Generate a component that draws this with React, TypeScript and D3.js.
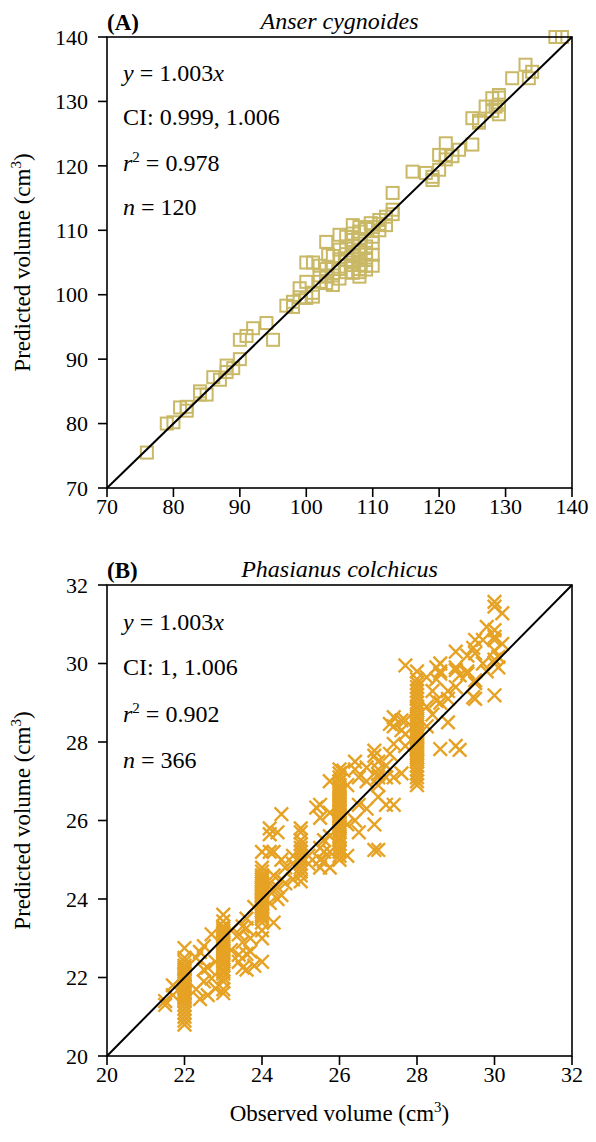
import React from "react";
import * as d3 from "d3";

// Panel A: Anser cygnoides, [observed, predicted]
const gooseData: [number, number][] = [
  [76, 75.5], [79, 80], [80, 80.2], [81, 82.5], [82, 82], [82, 82.6], [84, 85], [84, 84.5],
  [85, 84.5], [86, 87.2], [87, 86.8], [88, 89], [88, 88], [89, 88.6], [90, 90], [90, 93],
  [91, 93.6], [92, 94.8], [94, 95.6], [95, 93], [97, 98.3], [98, 98.9], [98, 98.1], [99, 101],
  [99, 99.6], [100, 102], [100, 99.5], [101, 100.3], [100, 105], [101, 105], [101, 99.7],
  [102, 103], [102, 102], [103, 102.8], [103, 101.8], [103, 108.2], [103.3, 106.2], [104, 101.5],
  [104, 104], [104, 106], [105, 109.3], [105, 107], [105, 104], [105, 105.5], [106, 105.4],
  [106, 107.5], [106, 103.5], [106.7, 104.6], [107, 110.8], [107, 108.5], [107, 103.4], [107, 106],
  [107, 105], [107, 109.5], [108, 110.5], [108, 107], [108, 106.2], [108, 104], [108, 105.5],
  [108, 108.5], [108, 103.5], [108, 109.8], [109, 103.9], [109, 105.4], [109, 107.5], [109, 106.5],
  [109, 110.2], [109.7, 111.1], [110, 106.2], [110, 108], [110, 109], [111, 111.6], [111, 110],
  [112, 112.1], [112, 110.8], [113, 115.8], [113, 113.2], [113, 112.5], [102, 104.5], [103, 104],
  [104, 103], [105, 102.5], [106, 109], [107, 107.5], [108, 106.8], [108, 102.8], [109, 104.5],
  [110, 104.5], [110, 110.5], [111, 111], [106, 106.3],
  [116, 119.1], [118, 118.9], [119, 117.8], [119, 118.3], [120, 119.4], [120, 121.7], [121, 121.7],
  [121, 123.5], [121, 121], [122, 121.5], [123, 122.5], [125, 123.3], [125, 127.4], [126, 126.7],
  [126, 127], [127, 129.2], [128, 130.5], [128, 128.5], [128.5, 129.2], [129, 128], [129, 130.6],
  [129, 129.5], [129, 131], [131, 133.6], [133, 135.7], [133.5, 133.6], [134, 134.6], [137.5, 140],
  [138.5, 140],
];
const gooseTicks = [70, 80, 90, 100, 110, 120, 130, 140];

// Panel B: Phasianus colchicus, observed value -> predicted values
const pheasantGroups: [number, number[]][] = [
  [21.5, [21.3, 21.4]],
  [21.7, [21.55, 21.8]],
  [22.0, [20.8, 20.9, 21.0, 21.1, 21.2, 21.3, 21.4, 21.5, 21.55, 21.6, 21.65, 21.7, 21.75, 21.8, 21.85, 21.9, 21.95, 22.0, 22.05, 22.1, 22.15, 22.2, 22.3, 22.4, 22.5, 22.75, 21.45, 21.62, 21.78, 21.92, 22.08, 22.25]],
  [22.3, [22.5, 21.7]],
  [22.4, [21.45, 22.65]],
  [22.5, [22.8, 22.2, 21.9]],
  [22.6, [22.25, 21.55]],
  [22.7, [23.1, 21.98]],
  [22.8, [21.72, 22.4]],
  [23.0, [21.6, 21.7, 21.9, 22.0, 22.1, 22.2, 22.3, 22.4, 22.5, 22.55, 22.6, 22.7, 22.75, 22.8, 22.85, 22.9, 23.0, 23.05, 23.1, 23.2, 23.3, 23.43, 23.6, 22.15, 22.35, 22.45, 22.65, 22.95, 23.15, 23.25]],
  [23.2, [22.7, 23.2]],
  [23.4, [23.1, 22.58, 22.4]],
  [23.5, [22.25, 23.3, 22.9]],
  [23.6, [23.26, 22.2, 22.6, 23.5]],
  [23.7, [22.66, 23.0]],
  [23.8, [22.3, 23.8]],
  [24.0, [22.4, 23.0, 23.2, 23.4, 23.5, 23.6, 23.7, 23.75, 23.8, 23.85, 23.9, 23.95, 24.0, 24.05, 24.1, 24.15, 24.2, 24.25, 24.3, 24.35, 24.4, 24.5, 24.6, 24.7, 24.8, 25.2, 23.55, 23.65, 23.78, 23.88, 23.98, 24.08, 24.18, 24.28, 24.45, 24.55]],
  [24.2, [25.8, 25.65, 25.2, 24.4, 23.9]],
  [24.3, [25.2, 24.6, 23.4, 24.2]],
  [24.4, [25.7, 24.3, 24.0]],
  [24.5, [26.16, 24.5, 24.1, 25.0]],
  [24.6, [24.4, 24.8]],
  [24.8, [24.5, 24.9, 25.1]],
  [25.0, [24.45, 24.6, 24.7, 24.8, 24.9, 25.0, 25.1, 25.2, 25.3, 25.4, 25.5, 25.7, 25.8]],
  [25.2, [25.1, 24.9]],
  [25.4, [26.33]],
  [25.5, [26.4, 26.07, 24.8, 25.0, 25.3]],
  [25.6, [24.96, 25.2, 25.5]],
  [25.75, [27.0, 24.8, 25.6, 26.2, 25.2]],
  [26.0, [25.0, 25.1, 25.2, 25.3, 25.4, 25.5, 25.6, 25.7, 25.8, 25.85, 25.9, 25.95, 26.0, 26.05, 26.1, 26.15, 26.2, 26.25, 26.3, 26.4, 26.5, 26.6, 26.7, 26.8, 26.9, 27.0, 27.1, 27.2, 27.3, 26.02, 26.12, 26.22, 26.35, 26.45, 26.55, 26.65, 26.75, 25.55, 25.75, 26.85]],
  [26.1, [27.27]],
  [26.2, [26.9, 25.9, 25.1]],
  [26.4, [27.5, 27.3, 26.0]],
  [26.5, [27.1, 26.4, 25.7]],
  [26.7, [27.35, 26.3, 27.0]],
  [26.9, [27.78, 27.65, 25.9, 25.25]],
  [27.0, [27.18, 27.3, 27.5, 25.25, 26.9, 27.1, 26.6]],
  [27.2, [27.1, 26.4, 27.4]],
  [27.3, [28.46, 27.7]],
  [27.4, [27.95, 28.4, 27.1, 26.4, 28.63]],
  [27.6, [28.3, 28.55, 27.2]],
  [27.7, [29.95, 28.55, 28.2, 27.9]],
  [28.0, [26.9, 27.0, 27.1, 27.2, 27.3, 27.4, 27.5, 27.6, 27.65, 27.7, 27.75, 27.8, 27.85, 27.9, 27.95, 28.0, 28.05, 28.1, 28.15, 28.2, 28.3, 28.4, 28.5, 28.6, 28.7, 28.8, 28.9, 29.0, 29.1, 29.2, 29.3, 29.4, 29.5, 29.6, 29.8, 27.55, 27.82, 28.25, 28.45, 28.65, 28.85]],
  [28.25, [29.65, 28.9, 28.4]],
  [28.4, [29.3, 28.7]],
  [28.5, [29.9, 29.05, 29.6]],
  [28.6, [29.74, 30.0, 29.8, 27.82, 29.0]],
  [28.8, [29.3, 29.1, 28.5]],
  [29.0, [29.83, 29.4, 30.3, 27.9, 29.9]],
  [29.1, [29.7, 27.8]],
  [29.3, [29.74, 30.2, 29.8]],
  [29.45, [30.4, 29.14]],
  [29.5, [30.6, 30.26, 29.57, 29.1, 29.5]],
  [29.7, [30.6, 30.0]],
  [29.8, [30.93, 29.8]],
  [30.0, [31.57, 31.45, 30.85, 30.68, 30.33, 30.0, 29.19, 30.6, 30.1]],
  [30.1, [30.17, 29.9]],
  [30.2, [31.28, 30.5]],
];
const pheasantTicks = [20, 22, 24, 26, 28, 30, 32];

const FONT = "'Liberation Serif', 'Times New Roman', serif";
const SQUARE_COLOR = "#c9b866";
const CROSS_COLOR = "#e6a224";

type PanelProps = {
  top: number;
  bottom: number;
  domain: [number, number];
  ticks: number[];
  label: string;
  species: string;
  ci: string;
  r2: string;
  n: string;
  baselines: number[];
  children: (x: d3.ScaleLinear<number, number>, y: d3.ScaleLinear<number, number>) => React.ReactNode;
};

const LEFT = 107;
const RIGHT = 572;

function Panel({ top, bottom, domain, ticks, label, species, ci, r2, n, baselines, children }: PanelProps) {
  const x = d3.scaleLinear().domain(domain).range([LEFT, RIGHT]);
  const y = d3.scaleLinear().domain(domain).range([bottom, top]);
  const midY = (top + bottom) / 2;
  return (
    <g fontFamily={FONT} fill="#000">
      <text x={LEFT} y={top - 7} fontWeight="bold" fontSize={23}>{label}</text>
      <text x={(LEFT + RIGHT) / 2} y={top - 8} fontStyle="italic" fontSize={24} textAnchor="middle">{species}</text>
      {children(x, y)}
      <line x1={x(domain[0])} y1={y(domain[0])} x2={x(domain[1])} y2={y(domain[1])} stroke="#000" strokeWidth={2} />
      <rect x={LEFT} y={top} width={RIGHT - LEFT} height={bottom - top} fill="none" stroke="#000" strokeWidth={1.6} />
      {ticks.map((t) => (
        <g key={"y" + t}>
          <line x1={LEFT - 9} x2={LEFT} y1={y(t)} y2={y(t)} stroke="#000" strokeWidth={1.6} />
          <text x={LEFT - 19} y={y(t)} dy="0.35em" textAnchor="end" fontSize={22}>{t}</text>
        </g>
      ))}
      {ticks.map((t) => (
        <g key={"x" + t}>
          <line x1={x(t)} x2={x(t)} y1={bottom} y2={bottom + 9} stroke="#000" strokeWidth={1.6} />
          <text x={x(t)} y={bottom + 26} textAnchor="middle" fontSize={22}>{t}</text>
        </g>
      ))}
      <text transform={`translate(30,${midY}) rotate(-90)`} textAnchor="middle" fontSize={23}>
        Predicted volume (cm<tspan dy={-9} fontSize={15}>3</tspan><tspan dy={9}>)</tspan>
      </text>
      <g fontSize={24}>
        <text x={123} y={baselines[0]}>
          <tspan fontStyle="italic">y</tspan> = 1.003<tspan fontStyle="italic">x</tspan>
        </text>
        <text x={123} y={baselines[1]}>CI: {ci}</text>
        <text x={123} y={baselines[2]}>
          <tspan fontStyle="italic">r</tspan><tspan dy={-9} fontSize={15}>2</tspan><tspan dy={9}> = {r2}</tspan>
        </text>
        <text x={123} y={baselines[3]}>
          <tspan fontStyle="italic">n</tspan> = {n}
        </text>
      </g>
    </g>
  );
}

export default function App() {
  const pheasantPoints: [number, number][] = [];
  pheasantGroups.forEach(([obs, preds]) => preds.forEach((p) => pheasantPoints.push([obs, p])));
  const s = 6;
  const c = 6.8;
  return (
    <svg width={596} height={1142} style={{ position: "absolute", left: 0, top: 0, background: "#fff" }}>
      <Panel top={37} bottom={488} domain={[70, 140]} ticks={gooseTicks} label="(A)" species="Anser cygnoides"
        ci="0.999, 1.006" r2="0.978" n="120" baselines={[81, 125, 171, 215]}>
        {(x, y) => (
          <g>
            {gooseData.map(([o, p], i) => (
              <rect key={i} x={x(o) - s} y={y(p) - s} width={2 * s} height={2 * s} fill="none" stroke={SQUARE_COLOR} strokeWidth={2} />
            ))}
          </g>
        )}
      </Panel>
      <Panel top={585} bottom={1056} domain={[20, 32]} ticks={pheasantTicks} label="(B)" species="Phasianus colchicus"
        ci="1, 1.006" r2="0.902" n="366" baselines={[630, 675, 722, 768]}>
        {(x, y) => (
          <g>
            {pheasantPoints.map(([o, p], i) => (
              <path key={i} transform={`translate(${x(o)},${y(p)})`} d={`M${-c},${-c}L${c},${c}M${-c},${c}L${c},${-c}`}
                stroke={CROSS_COLOR} strokeWidth={2.4} fill="none" />
            ))}
          </g>
        )}
      </Panel>
      <text x={(LEFT + RIGHT) / 2} y={1121} textAnchor="middle" fontFamily={FONT} fontSize={23}>
        Observed volume (cm<tspan dy={-9} fontSize={15}>3</tspan><tspan dy={9}>)</tspan>
      </text>
    </svg>
  );
}
